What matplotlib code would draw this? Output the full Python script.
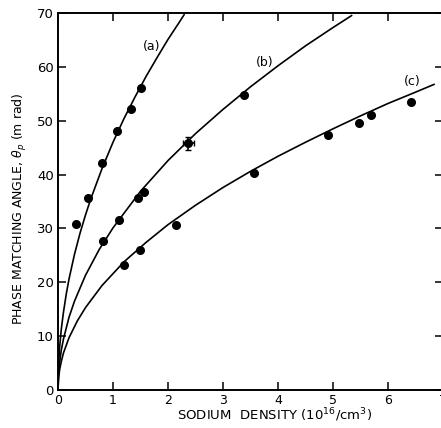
import numpy as np
import matplotlib
matplotlib.use('Agg')
import matplotlib.pyplot as plt

# measured points (sodium density 1e16/cm^3, phase matching angle mrad)
a_x = [0.33, 0.54, 0.80, 1.08, 1.33, 1.50]
a_y = [30.8, 35.7, 42.1, 48.1, 52.1, 56.1]

b_x = [0.82, 1.11, 1.46, 1.57, 3.39]
b_y = [27.7, 31.5, 35.6, 36.8, 54.7]

# point with error bar on curve (b)
err_x = [2.37]
err_y = [45.8]
err_dx = [0.1]
err_dy = [1.2]

c_x = [1.20, 1.49, 2.15, 3.56, 4.90, 5.48, 5.69, 6.41]
c_y = [23.3, 26.0, 30.7, 40.3, 47.3, 49.6, 51.1, 53.4]

# fitted curves
fa_x = [0, 0.01, 0.03, 0.06, 0.1, 0.15, 0.2, 0.3, 0.4, 0.5, 0.6, 0.8, 1.0, 1.2, 1.4, 1.6, 1.8, 2.0, 2.2, 2.3]
fa_y = [0, 4.6, 8.0, 11.3, 14.5, 17.8, 20.6, 25.2, 29.1, 32.5, 35.6, 41.1, 46.0, 50.4, 54.4, 58.2, 61.7, 65.1, 68.2, 69.8]

fb_x = [0, 0.01, 0.03, 0.06, 0.1, 0.2, 0.3, 0.5, 0.75, 1.0, 1.5, 2.0, 2.5, 3.0, 3.5, 4.0, 4.5, 5.0, 5.35]
fb_y = [0, 3.0, 5.2, 7.4, 9.5, 13.5, 16.5, 21.3, 26.1, 30.1, 36.9, 42.6, 47.6, 52.1, 56.3, 60.2, 63.9, 67.3, 69.6]

fc_x = [0, 0.01, 0.03, 0.06, 0.1, 0.2, 0.35, 0.5, 0.8, 1.2, 1.6, 2.0, 2.5, 3.0, 3.5, 4.0, 4.5, 5.0, 5.5, 6.0, 6.5, 6.85]
fc_y = [0, 2.2, 3.8, 5.3, 6.9, 9.7, 12.8, 15.3, 19.4, 23.8, 27.4, 30.7, 34.3, 37.6, 40.6, 43.4, 46.0, 48.5, 50.9, 53.2, 55.3, 56.8]

labels = ['(a)', '(b)', '(c)']
label_pos = [(1.71, 63.7), (3.76, 60.9), (6.44, 57.2)]

plt.rcParams['font.family'] = ['DejaVu Sans']

fig = plt.figure(figsize=(4.41, 4.28), dpi=100)
ax = fig.add_axes([58/441, 38/428, 385/441, 377/428])

for fx, fy in [(fa_x, fa_y), (fb_x, fb_y), (fc_x, fc_y)]:
    ax.plot(fx, fy, color='black', lw=1.2, solid_capstyle='butt')

for px, py in [(a_x, a_y), (b_x, b_y), (c_x, c_y)]:
    ax.plot(px, py, 'o', color='black', ms=5.5)

ax.errorbar(err_x, err_y, xerr=err_dx, yerr=err_dy, fmt='o', color='black',
            ms=5.5, elinewidth=1.2, capsize=2.5)

for t, (lx, ly) in zip(labels, label_pos):
    ax.text(lx, ly, t, fontsize=9, ha='center', va='center')

ax.set_xlim(0, 7)
ax.set_ylim(0, 70)
ax.set_xticks(range(0, 8))
ax.set_yticks(range(0, 71, 10))
ax.tick_params(direction='in', length=6, width=1.1, top=True, right=True,
               labelsize=9.5, pad=3)
ax.tick_params(axis='x', labelsize=9, pad=3)
for s in ax.spines.values():
    s.set_linewidth(1.4)

fig.text(275/441, 13/428, 'SODIUM  DENSITY (10$^{16}$/cm$^3$)', ha='center',
         va='center', fontsize=9.5)
fig.text(20/441, 219/428, r'PHASE MATCHING ANGLE, $\theta_p$ (m rad)',
         rotation=90, ha='center', va='center', fontsize=9)

fig.savefig('out.png', dpi=100)
